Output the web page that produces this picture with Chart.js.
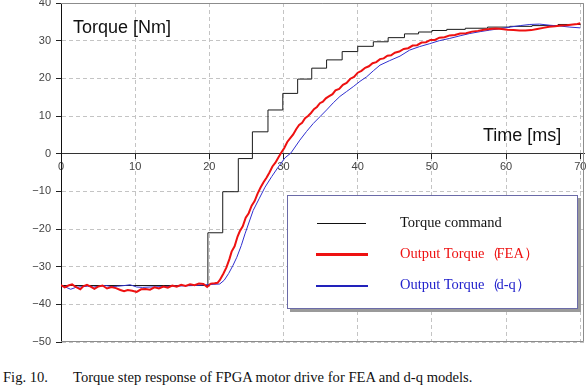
<!DOCTYPE html>
<html>
<head>
<meta charset="utf-8">
<script src="https://cdn.jsdelivr.net/npm/chart.js@4"></script>
<style>
body { margin: 0; background: #fff; overflow: hidden; }
#wrap { position: relative; width: 588px; height: 389px; }
#chartBox { position: absolute; left: 0; top: 0; width: 588px; height: 350px; }
.axisTitle { position: absolute; font-family: "Liberation Sans", Arial, sans-serif; font-size: 18px; line-height: 20px; color: #111; white-space: nowrap; }
#legend { position: absolute; left: 287px; top: 195px; width: 289px; height: 112px; border: 1px solid #6b6ba8; background: #fff; box-shadow: 3px 3px 0 #9a9a9a; }
#legend .ln { position: absolute; }
#legend .tx { position: absolute; left: 112px; font-family: "Liberation Serif", "Times New Roman", serif; font-size: 14.5px; line-height: 14.5px; white-space: nowrap; }
#legend .par { letter-spacing: -3px; }
.caption { position: absolute; top: 368px; font-family: "Liberation Serif", "Times New Roman", serif; font-size: 14.6px; line-height: 18px; color: #111; white-space: nowrap; }
</style>
</head>
<body>
<div id="wrap">
  <div id="chartBox"><canvas id="myChart"></canvas></div>
  <div class="axisTitle" style="left:73px; top:17px;">Torque [Nm]</div>
  <div class="axisTitle" style="left:483px; top:125px;">Time [ms]</div>
  <div id="legend">
    <div class="ln" style="left:29px; top:26.5px; width:49px; height:1.5px; background:#111;"></div>
    <div class="tx" style="top:18.6px; color:#111;">Torque command</div>
    <div class="ln" style="left:28px; top:57.2px; width:52px; height:3px; background:#ee1111;"></div>
    <div class="tx" style="top:49.6px; color:#ee1111;">Output Torque<span class="par">（</span>FEA<span class="par">）</span></div>
    <div class="ln" style="left:28px; top:89px; width:52px; height:2px; background:#2222bb;"></div>
    <div class="tx" style="top:81.2px; color:#2222cc;">Output Torque<span class="par">（</span>d-q<span class="par">）</span></div>
  </div>
  <div class="caption" style="left:3px;">Fig. 10.</div>
  <div class="caption" style="left:73px;">Torque step response of FPGA motor drive for FEA and d-q models.</div>
</div>
<script>
const xTicks = [0, 10, 20, 30, 40, 50, 60, 70]
const yTicks = [-50, -40, -30, -20, -10, 0, 10, 20, 30, 40]

const cmdTime = [0, 19.8, 21.8, 23.9, 25.8, 27.9, 29.9, 31.9, 33.8, 35.8, 37.9, 40.0, 42.1, 44.1, 46.3, 48.2, 50.0, 52.0, 54.5, 57.5, 60.5, 63.5, 67.0, 70.0]
const cmdTorque = [-35.0, -21.0, -10.1, -1.3, 5.8, 11.6, 16.0, 19.8, 22.7, 24.9, 27.1, 28.5, 29.7, 30.8, 31.8, 32.3, 32.7, 33.0, 33.3, 33.6, 33.8, 34.0, 34.3, 34.5]

const feaTime = [0, 0.5, 1.0, 1.5, 2.0, 2.6, 3.0, 3.5, 4.0, 4.5, 5.0, 5.6, 6.2, 6.8, 7.4, 8.0, 8.5, 9.0, 9.6, 10.2,
  10.8, 11.4, 12.0, 12.6, 13.2, 13.8, 14.4, 15.0, 15.6, 16.2, 16.8, 17.4, 18.0, 18.6, 19.2, 19.7, 20.2, 20.7, 21.1,
  21.4, 21.9, 22.3, 22.7, 23.0, 23.4, 23.8, 24.1, 24.5, 24.9, 25.3, 25.7, 26.1, 26.5, 26.9, 27.3, 27.7, 28.1, 28.5,
  28.9, 29.3, 29.7, 30.1, 30.5, 30.9, 31.3, 31.7, 32.1, 32.5, 32.9, 33.3, 33.7, 34.1, 34.5, 34.9, 35.3, 35.7, 36.1,
  36.6, 37.0, 37.5, 38.0, 38.5, 39.0, 39.5, 40.0, 40.5, 41.0, 41.5, 42.0, 42.5, 43.0, 43.5, 44.0, 44.5, 45.0, 45.6,
  46.2, 46.8, 47.4, 48.0, 48.6, 49.2, 49.8, 50.4, 51.0, 51.7, 52.4, 53.1, 53.8, 54.6, 55.4, 56.2, 57.0, 57.8, 58.6,
  59.4, 60.2, 61.0, 61.8, 62.6, 63.4, 64.2, 65.0, 65.8, 66.6, 67.4, 68.2, 69.0, 69.6, 70.0]
const feaTorque = [-34.9, -35.5, -35.0, -34.7, -35.4, -36.0, -35.2, -34.8, -35.3, -35.9, -35.3, -35.0, -35.8, -35.4, -35.7, -36.2, -36.5, -36.2, -36.4, -36.7,
  -36.0, -35.9, -36.1, -35.5, -35.8, -35.3, -35.6, -35.0, -35.3, -34.8, -35.1, -34.7, -34.9, -34.5, -34.6, -35.4, -34.5, -34.4, -34.3,
  -33.6, -31.8, -30.2, -28.0, -26.0, -24.6, -22.0, -20.6, -19.3, -17.0, -15.8, -13.8, -12.6, -10.6, -9.0, -7.6, -6.4, -5.0, -3.4,
  -2.4, -1.0, 0.3, 1.5, 3.1, 4.1, 5.1, 6.5, 7.6, 8.2, 9.4, 10.0, 10.8, 11.8, 12.4, 13.4, 13.8, 14.7, 15.2,
  15.8, 16.8, 17.2, 18.3, 18.8, 19.9, 20.4, 21.5, 22.0, 22.8, 23.2, 24.0, 24.3, 25.1, 25.3, 26.0, 26.1, 26.8, 27.1,
  27.8, 28.0, 28.7, 28.8, 29.5, 29.6, 30.2, 30.2, 30.8, 30.9, 31.4, 31.5, 31.9, 32.0, 32.4, 32.6, 32.9, 33.1, 33.2,
  33.1, 32.9, 32.8, 32.7, 32.7, 32.8, 33.1, 33.4, 33.7, 33.8, 34.0, 34.1, 34.3, 34.4, 34.6]

const dqTime = [0, 0.6, 1.3, 2.0, 2.8, 3.6, 4.4, 5.3, 6.0, 6.8, 7.6, 8.6, 9.3, 10.2, 11.0, 12.0, 13.5, 15.0, 16.5, 18.0,
  19.5, 20.5, 21.4, 22.0, 22.6, 23.2, 23.7, 24.3, 24.8, 25.9, 26.7, 27.5, 28.4, 29.3, 30.2, 31.0, 32.2, 33.1, 34.0,
  34.9, 35.8, 36.7, 37.6, 38.5, 39.4, 40.3, 41.2, 42.1, 43.0, 44.3, 45.7, 47.0, 48.3, 49.7, 51.0, 52.4, 53.8, 55.1,
  56.5, 57.8, 59.2, 60.5, 61.9, 63.2, 64.5, 65.9, 67.2, 68.6, 70.0]
const dqTorque = [-34.9, -35.4, -36.0, -35.5, -35.3, -35.2, -35.4, -35.2, -35.0, -35.3, -35.2, -35.0, -34.8, -35.4, -35.5, -35.4, -35.3, -35.2, -35.1, -35.0,
  -34.8, -34.7, -34.6, -33.6, -31.8, -29.6, -27.5, -24.4, -21.3, -15.1, -12.0, -8.9, -6.1, -3.5, -1.1, 0.2, 3.6, 5.9, 8.0,
  9.8, 11.6, 13.5, 15.2, 16.5, 17.8, 19.2, 20.4, 22.0, 23.5, 24.7, 25.9, 27.5, 28.4, 29.2, 30.0, 30.6, 31.3, 31.9,
  32.4, 32.8, 33.2, 33.6, 34.0, 34.3, 34.4, 34.1, 33.9, 33.6, 33.4]

const toPoints = (times, values) => times.map((t, i) => ({ x: t, y: values[i] }))

// top, right and bottom edge of the plot
const frame = {
  id: 'frame',
  beforeDatasetsDraw(chart) {
    const { ctx, chartArea: a } = chart
    ctx.save()
    ctx.strokeStyle = '#8c8c8c'
    ctx.lineWidth = 1
    ctx.beginPath()
    ctx.moveTo(a.left, a.top + 0.5)
    ctx.lineTo(a.right - 0.5, a.top + 0.5)
    ctx.lineTo(a.right - 0.5, a.bottom - 0.5)
    ctx.lineTo(a.left, a.bottom - 0.5)
    ctx.stroke()
    ctx.restore()
  }
}

const minus = v => v < 0 ? '\u2212' + Math.abs(v) : String(v)

const config = {
  type: 'line',
  data: {
    datasets: [
      {
        label: 'Torque command',
        data: toPoints(cmdTime, cmdTorque),
        borderColor: '#1a1a1a',
        borderWidth: 1,
        stepped: 'before',
        order: 3
      },
      {
        label: 'Output Torque（FEA）',
        data: toPoints(feaTime, feaTorque),
        borderColor: '#ee1111',
        borderWidth: 2,
        order: 1
      },
      {
        label: 'Output Torque（d-q）',
        data: toPoints(dqTime, dqTorque),
        borderColor: '#3030d0',
        borderWidth: 1,
        order: 2
      }
    ]
  },
  options: {
    responsive: true,
    maintainAspectRatio: false,
    animation: false,
    layout: { padding: { left: 0, top: 3, right: 4, bottom: 8 } },
    elements: { point: { radius: 0 }, line: { tension: 0 } },
    plugins: { legend: { display: false }, tooltip: { enabled: false } },
    scales: {
      x: {
        type: 'linear',
        position: { y: 0 },
        min: 0,
        max: 70.5,
        afterBuildTicks: axis => { axis.ticks = xTicks.map(v => ({ value: v })) },
        afterFit: axis => { axis.height = 0; axis.paddingLeft = 0; axis.paddingRight = 0 },
        ticks: {
          color: '#444',
          padding: 2,
          maxRotation: 0,
          font: { family: '"Liberation Sans", Arial, sans-serif', size: 11 },
          callback: v => minus(v)
        },
        grid: { color: '#c4c4c4', tickColor: '#222', tickLength: 5 },
        border: { color: '#333', width: 1, dash: [4, 3] }
      },
      y: {
        min: -50,
        max: 40,
        afterBuildTicks: axis => { axis.ticks = yTicks.map(v => ({ value: v })) },
        afterFit: axis => { axis.width = 61; axis.paddingTop = 0; axis.paddingBottom = 0 },
        ticks: {
          color: '#444',
          padding: 5,
          font: { family: '"Liberation Sans", Arial, sans-serif', size: 11 },
          callback: v => minus(v)
        },
        grid: { color: '#c4c4c4', tickColor: '#222', tickLength: 5 },
        border: { color: '#111', width: 1, dash: [4, 3] }
      }
    }
  },
  plugins: [frame]
}

new Chart(document.getElementById('myChart'), config)
</script>
</body>
</html>
